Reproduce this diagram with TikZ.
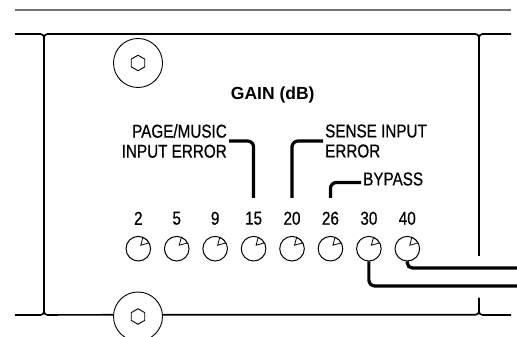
\documentclass[tikz,border=0pt]{standalone}
\usepackage{fontspec}
\setmainfont{Liberation Sans}
\newfontfamily\narrowfont[FakeStretch=0.82,FakeBold=0.6]{Liberation Sans}
\usetikzlibrary{positioning,shapes.geometric,calc}

\begin{document}
\begin{tikzpicture}[x=1pt,y=1pt,node distance=38.43pt,on grid,
  panel/.style={line width=1.6pt,rounded corners=3.5pt},
  screw/.style={circle,draw,line width=0.9pt,minimum size=49pt,inner sep=0pt},
  hexhead/.style={regular polygon,regular polygon sides=6,shape border rotate=30,
    draw,line width=0.9pt,minimum size=15.5pt,inner sep=0pt},
  knob/.style={circle,draw,line width=1pt,minimum size=24.6pt,inner sep=0pt,
    path picture={\draw[line width=0.8pt]
      ($(path picture bounding box.center)+(2.5,3.5)$) --
      ($(path picture bounding box.center)+(68:12.3)$)
      arc[start angle=68,end angle=28,radius=12.3] -- cycle;}},
  num/.style={font=\narrowfont\fontsize{18.6}{20}\selectfont,inner sep=0pt},
  lbl/.style={font=\narrowfont\fontsize{18.6}{20}\selectfont,inner sep=2pt},
  lead/.style={line width=3.2pt,rounded corners=6pt}]
  \useasboundingbox (0,0) rectangle (517,337);
  \draw[black!55,line width=1.4pt] (15,327) -- (511,327);

  % screws
  \node[screw] (s-top) at (138,274) {};
  \node[hexhead] (h-top) at (s-top) {};
  \node[screw] (s-bot) at (138,20.5) {};
  \node[hexhead] (h-bot) at (s-bot) {};

  % panel outline
  \draw[panel] (15,303) -| (44,22) -- (15,22);
  \draw[panel] (s-bot.176) -- (44,22) |- (479,303) -- (479,81);
  \draw[panel] (511,303) -| (479,81);
  \draw[panel] (s-bot.4) -| (479,39);
  \draw[panel] (511,22) -| (479,39);

  \node[font=\bfseries\fontsize{17.5}{20}\selectfont,anchor=base] (title) at (272.7,237) {GAIN (dB)};

  % knobs and gains
  \node[knob] (k-2) at (138.3,88.3) {};
  \node[knob] (k-5) [right=of k-2] {};
  \node[knob] (k-9) [right=of k-5] {};
  \node[knob] (k-15) [right=of k-9] {};
  \node[knob] (k-20) [right=of k-15] {};
  \node[knob] (k-26) [right=of k-20] {};
  \node[knob] (k-30) [right=of k-26] {};
  \node[knob] (k-40) [right=of k-30] {};
  \node[num] (n-2) [above=30.4pt of k-2] {2};
  \node[num] (n-5) [above=30.4pt of k-5] {5};
  \node[num] (n-9) [above=30.4pt of k-9] {9};
  \node[num] (n-15) [above=30.4pt of k-15] {15};
  \node[num] (n-20) [above=30.4pt of k-20] {20};
  \node[num] (n-26) [above=30.4pt of k-26] {26};
  \node[num] (n-30) [above=30.4pt of k-30] {30};
  \node[num] (n-40) [above=30.4pt of k-40] {40};

  % labels
  \coordinate[above=20.3pt of n-15] (t-15);
  \coordinate[above=20.3pt of n-20] (t-20);
  \coordinate[above=20.3pt of n-26] (t-26);
  \node[lbl,align=right,anchor=east] (l-page) at (229,196) {PAGE/MUSIC\\INPUT ERROR};
  \node[lbl,align=left,anchor=west] (l-sense) at (323,196) {SENSE INPUT\\ERROR};
  \node[lbl,anchor=west] (l-bypass) at (361,158) {BYPASS};
  \draw[lead] (l-page.east) -| (t-15);
  \draw[lead] (l-sense.west) -| (t-20);
  \draw[lead] ([yshift=-3.5pt]l-bypass.west) -| (t-26);

  % wires
  \coordinate (w-30) at (517,51);
  \coordinate (w-40) at (517,69);
  \draw[lead] (k-30.south) |- (w-30);
  \draw[lead,rounded corners=5pt] (k-40.south) |- (w-40);
\end{tikzpicture}
\end{document}
